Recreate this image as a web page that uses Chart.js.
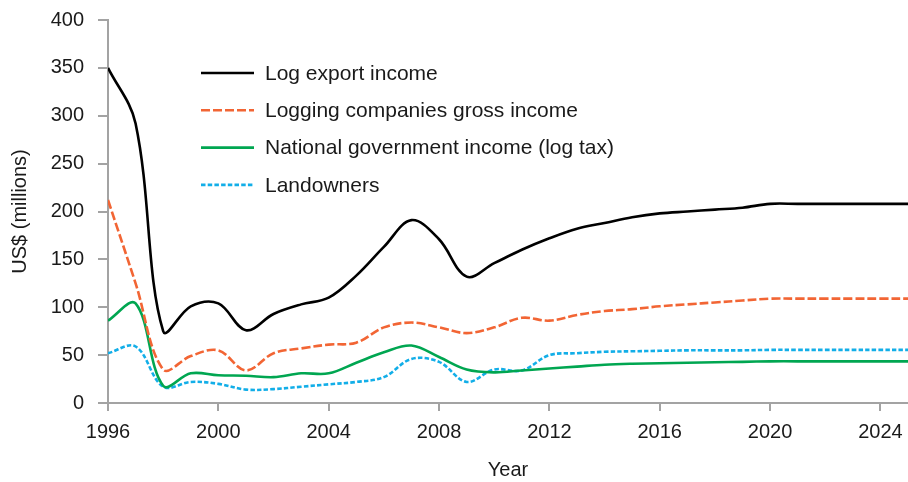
<!DOCTYPE html>
<html>
<head>
<meta charset="utf-8">
<script src="https://cdn.jsdelivr.net/npm/chart.js@4"></script>
<style>
  html, body { margin: 0; padding: 0; background: #fff; }
  #wrap { width: 908px; height: 482px; position: relative; }
</style>
</head>
<body>
<div id="wrap"><canvas id="myCanvas"></canvas></div>
<script>
// Data (US$ millions)
const years = [1996, 1997, 1998, 1999, 2000, 2001, 2002, 2003, 2004, 2005,
               2006, 2007, 2008, 2009, 2010, 2011, 2012, 2013, 2014, 2015,
               2016, 2017, 2018, 2019, 2020, 2021, 2022, 2023, 2024, 2025];

const logExportIncome = [350, 292, 75, 101, 104, 76, 93, 103, 110, 133,
                         163, 191, 171, 132, 146, 160, 172, 182, 188, 194,
                         198, 200, 202, 204, 208, 208, 208, 208, 208, 208];

const loggingCompaniesIncome = [212, 125, 35, 49, 55, 34, 52, 57, 61, 63,
                                79, 84, 79, 73, 79, 89, 86, 92, 96, 98,
                                101, 103, 105, 107, 109, 109, 109, 109, 109, 109];

const governmentIncome = [86, 104, 18, 31, 29, 28.5, 27, 31, 31, 42,
                          53, 60, 48, 35, 32, 34, 36, 38, 40, 41,
                          41.5, 42, 42.5, 43, 43.5, 43.5, 43.5, 43.5, 43.5, 43.5];

const landownersIncome = [52, 59, 17, 22, 20, 14, 14.5, 17, 19.5, 22,
                          27, 46, 43, 22, 35, 34, 50, 52, 53.5, 54,
                          54.5, 55, 55, 55, 55.5, 55.5, 55.5, 55.5, 55.5, 55.5];

const seriesNames = ['Log export income', 'Logging companies gross income',
                     'National government income (log tax)', 'Landowners'];

const xTicks = [1996, 2000, 2004, 2008, 2012, 2016, 2020, 2024];
const yTicks = [0, 50, 100, 150, 200, 250, 300, 350, 400];

const toPoints = vals => vals.map((v, i) => ({ x: years[i], y: v }));

const axisGrey = '#a3a3a3';
Chart.defaults.font.family = '"Liberation Sans", Arial, sans-serif';
Chart.defaults.color = '#1a1a1a';

// Legend drawn inside the plot, like the original
const insideLegend = {
    id: 'insideLegend',
    afterDatasetsDraw(chart) {
        const c = chart.ctx;
        c.save();
        c.font = '21px "Liberation Sans", Arial, sans-serif';
        c.textBaseline = 'middle';
        c.fillStyle = '#1a1a1a';
        chart.data.datasets.forEach((ds, i) => {
            const y = 73 + i * 37.3;
            c.beginPath();
            c.strokeStyle = ds.borderColor;
            c.lineWidth = ds.borderWidth;
            c.setLineDash(ds.borderDash || []);
            c.moveTo(201, y);
            c.lineTo(254, y);
            c.stroke();
            c.setLineDash([]);
            c.fillText(ds.label, 265, y + 1);
        });
        c.restore();
    }
};

const ctx = document.getElementById('myCanvas').getContext('2d');
const chart = new Chart(ctx, {
    type: 'line',
    data: {
        datasets: [{
            label: seriesNames[0],
            data: toPoints(logExportIncome),
            borderColor: '#000000',
            borderWidth: 2.6,
        }, {
            label: seriesNames[1],
            data: toPoints(loggingCompaniesIncome),
            borderColor: '#f26534',
            borderWidth: 2.6,
            borderDash: [9, 3],
        }, {
            label: seriesNames[2],
            data: toPoints(governmentIncome),
            borderColor: '#00a651',
            borderWidth: 2.6,
        }, {
            label: seriesNames[3],
            data: toPoints(landownersIncome),
            borderColor: '#12aee8',
            borderWidth: 2.6,
            borderDash: [4.5, 2.2],
        }],
    },
    options: {
        responsive: true,
        maintainAspectRatio: false,
        animation: false,
        layout: { padding: { top: 20, right: 0, left: 0, bottom: 0 } },
        elements: {
            point: { radius: 0 },
            line: { tension: 0.36, fill: false },
        },
        plugins: {
            legend: { display: false },
            tooltip: { enabled: false },
        },
        scales: {
            x: {
                type: 'linear',
                min: 1996,
                max: 2025,
                afterBuildTicks: s => { s.ticks = xTicks.map(v => ({ value: v })); },
                afterFit: s => { s.height = 79; s.paddingRight = 0; },
                ticks: {
                    font: { size: 20 },
                    padding: 9,
                    maxRotation: 0,
                    callback: v => String(v),
                },
                grid: {
                    drawOnChartArea: false,
                    drawTicks: true,
                    tickLength: 8,
                    color: axisGrey,
                    lineWidth: 2,
                },
                border: { color: axisGrey, width: 2 },
                title: {
                    display: true,
                    text: 'Year',
                    font: { size: 20 },
                    padding: { top: 0, bottom: 0 },
                },
            },
            y: {
                min: 0,
                max: 400,
                afterBuildTicks: s => { s.ticks = yTicks.map(v => ({ value: v })); },
                afterFit: s => { s.width = 108; s.paddingTop = 0; s.paddingBottom = 0; },
                ticks: {
                    font: { size: 20 },
                    padding: 14,
                },
                grid: {
                    drawOnChartArea: false,
                    drawTicks: true,
                    tickLength: 10,
                    color: axisGrey,
                    lineWidth: 2,
                },
                border: { color: axisGrey, width: 2 },
                title: {
                    display: true,
                    text: 'US$ (millions)',
                    font: { size: 20 },
                    padding: { top: 8, bottom: 0 },
                },
            },
        },
    },
    plugins: [insideLegend],
});
</script>
</body>
</html>
